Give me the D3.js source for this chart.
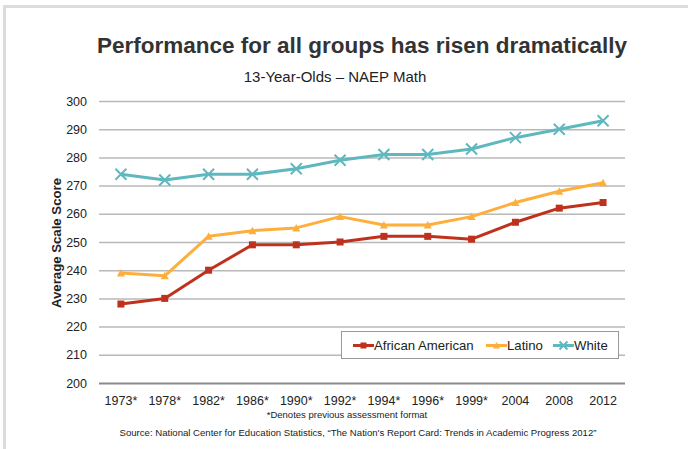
<!DOCTYPE html>
<html>
<head>
<meta charset="utf-8">
<script src="https://cdn.jsdelivr.net/npm/d3@7"></script>
<style>
  html, body { margin: 0; padding: 0; background: #fff; }
  svg { display: block; font-family: Arial, "Liberation Sans", sans-serif; }
</style>
</head>
<body>
<svg id="chart" width="688" height="449"></svg>
<script>
// Assessment years (* = previous assessment format)
const years = ["1973*", "1978*", "1982*", "1986*", "1990*", "1992*", "1994*", "1996*", "1999*", "2004", "2008", "2012"];
// Average scale scores, 13-year-olds, NAEP Math
const africanAmerican = [228, 230, 240, 249, 249, 250, 252, 252, 251, 257, 262, 264];
const latino          = [239, 238, 252, 254, 255, 259, 256, 256, 259, 264, 268, 271];
const white           = [274, 272, 274, 274, 276, 279, 281, 281, 283, 287, 290, 293];
const yTicks = [200, 210, 220, 230, 240, 250, 260, 270, 280, 290, 300];

const series = [
  { name: "African American", values: africanAmerican, color: "#c0311d", marker: "square" },
  { name: "Latino", values: latino, color: "#fdae3b", marker: "triangle" },
  { name: "White", values: white, color: "#5fb8bf", marker: "cross" }
];

const svg = d3.select("#chart");

// Outer frame (top and left edges)
svg.append("rect").attr("x", 3).attr("y", 5).attr("width", 685).attr("height", 3).attr("fill", "#dcdcdc");
svg.append("rect").attr("x", 3).attr("y", 5).attr("width", 3).attr("height", 444).attr("fill", "#dcdcdc");

const plotLeft = 99, plotRight = 625, plotTop = 101, plotBottom = 383;

const x = d3.scaleBand().domain(years).range([plotLeft, plotRight]).padding(0);
const y = d3.scaleLinear().domain([200, 300]).range([plotBottom, plotTop]);
const cx = d => x(d) + x.bandwidth() / 2;

// Titles
svg.append("text").attr("x", 362).attr("y", 53).attr("text-anchor", "middle")
  .attr("font-size", 22.5).attr("font-weight", "bold").attr("fill", "#333")
  .text("Performance for all groups has risen dramatically");
svg.append("text").attr("x", 335).attr("y", 82).attr("text-anchor", "middle")
  .attr("font-size", 15).attr("fill", "#222")
  .text("13-Year-Olds \u2013 NAEP Math");

// Horizontal gridlines
const yAxis = d3.axisLeft(y).tickValues(yTicks).tickSize(-(plotRight - plotLeft)).tickPadding(12);
const gy = svg.append("g").attr("transform", `translate(${plotLeft},0)`).call(yAxis);
gy.select(".domain").remove();
gy.selectAll(".tick line").attr("stroke", "#b8b8b8").attr("stroke-width", 1.5)
  .filter(d => d === 200).attr("stroke", "#8a8a8a").attr("stroke-width", 2.2);
gy.selectAll(".tick text").attr("font-size", 12.5).attr("fill", "#222")
  .attr("font-family", "Arial, 'Liberation Sans', sans-serif");

// Category axis labels
const xAxis = d3.axisBottom(x).tickSize(0).tickPadding(13);
const gx = svg.append("g").attr("transform", `translate(0,${plotBottom})`).call(xAxis);
gx.select(".domain").remove();
gx.selectAll(".tick text").attr("font-size", 12.5).attr("fill", "#222")
  .attr("font-family", "Arial, 'Liberation Sans', sans-serif");

// Y axis title
svg.append("text").attr("transform", `translate(60.5,243) rotate(-90)`)
  .attr("text-anchor", "middle").attr("font-size", 13.2).attr("font-weight", "bold").attr("fill", "#222")
  .text("Average Scale Score");

// Marker drawing
function drawMarker(g, type, color, px, py, s) {
  if (type === "square") {
    g.append("rect").attr("x", px - s).attr("y", py - s).attr("width", 2 * s).attr("height", 2 * s).attr("fill", color);
  } else if (type === "triangle") {
    g.append("path").attr("d", `M${px},${py - s - 0.5}L${px + s + 0.5},${py + s}L${px - s - 0.5},${py + s}Z`).attr("fill", color);
  } else {
    g.append("path").attr("d", `M${px - s},${py - s}L${px + s},${py + s}M${px - s},${py + s}L${px + s},${py - s}`)
      .attr("stroke", color).attr("stroke-width", 2).attr("fill", "none");
  }
}

const line = d3.line().x((d, i) => cx(years[i])).y(d => y(d));

series.forEach(s => {
  const g = svg.append("g");
  g.append("path").datum(s.values).attr("d", line).attr("fill", "none")
    .attr("stroke", s.color).attr("stroke-width", 3).attr("stroke-linejoin", "round");
  s.values.forEach((v, i) => drawMarker(g, s.marker, s.color, cx(years[i]), y(v), s.marker === "cross" ? 5.5 : 3.5));
});

// Legend
const lg = svg.append("g");
lg.append("rect").attr("x", 341.5).attr("y", 331.5).attr("width", 277).attr("height", 27)
  .attr("fill", "#fff").attr("stroke", "#999").attr("stroke-width", 1);
const legendX = [353, 486, 553];
series.forEach((s, i) => {
  const lx = legendX[i], ly = 345.5;
  lg.append("line").attr("x1", lx).attr("x2", lx + 21).attr("y1", ly).attr("y2", ly)
    .attr("stroke", s.color).attr("stroke-width", 3);
  drawMarker(lg, s.marker, s.color, lx + 10.5, ly, s.marker === "cross" ? 4 : 3);
  lg.append("text").attr("x", lx + 21).attr("y", ly + 4.7).attr("font-size", 13.2).attr("fill", "#222").text(s.name);
});

// Footnotes
svg.append("text").attr("x", 347).attr("y", 418).attr("text-anchor", "middle")
  .attr("font-size", 9.5).attr("fill", "#222").text("*Denotes previous assessment format");
svg.append("text").attr("x", 358).attr("y", 436).attr("text-anchor", "middle")
  .attr("font-size", 9.6).attr("fill", "#222")
  .text("Source: National Center for Education Statistics, \u201cThe Nation's Report Card: Trends in Academic Progress 2012\u201d");
</script>
</body>
</html>
